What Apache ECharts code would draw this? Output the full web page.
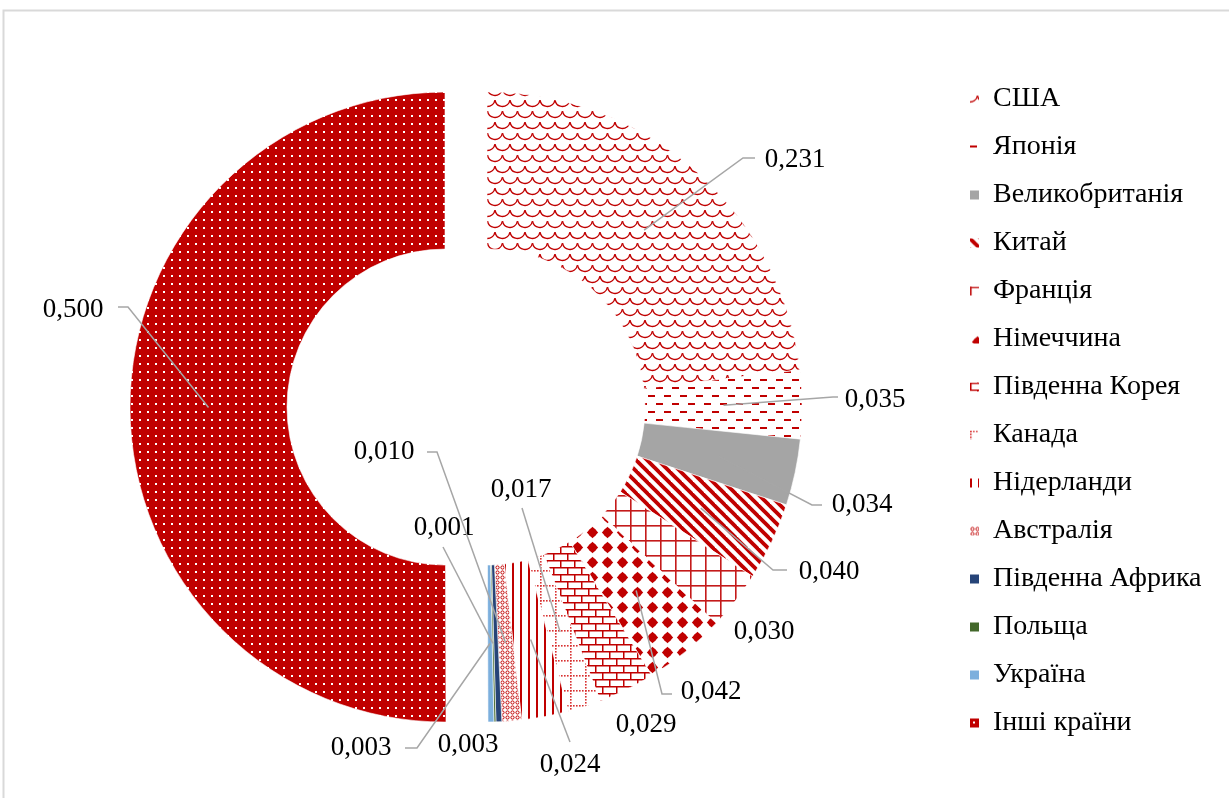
<!DOCTYPE html>
<html>
<head>
<meta charset="utf-8">
<script src="https://cdn.jsdelivr.net/npm/echarts@6/dist/echarts.min.js"></script>
<style>
  html, body { margin: 0; padding: 0; background: #fff; }
  #chart { width: 1229px; height: 798px; }
</style>
</head>
<body>
<div id="chart"></div>
<script>
// Shares of countries (clockwise from 12 o'clock)
const countries = ['США', 'Японія', 'Великобританія', 'Китай', 'Франція', 'Німеччина',
  'Південна Корея', 'Канада', 'Нідерланди', 'Австралія', 'Південна Африка', 'Польща',
  'Україна', 'Інші країни'];
const shares = [0.231, 0.035, 0.034, 0.040, 0.030, 0.042, 0.029, 0.017, 0.024, 0.010,
  0.003, 0.001, 0.003, 0.500];

// Label placement: text centre, leader elbow and leader end (null = no leader)
const labelCenter = [[795,160],[875,400],[862,505],[829,572],[764,632],[711,692],[646,725],
  [521,490],[570,765],[384,452],[468,745],[444,528],[361,748],[73,310]];
const leaderBend = [[743,158],[833,397],[812,505],[773,570],null,[662,694],null,
  [522,508],[570,742],[437,452],null,[443,547],[417,748],[128,307]];
const leaderEnd = [[755,158],[838,397],[822,505],[787,570],null,[672,694],null,
  [522,508],[570,742],[427,452],null,[443,547],[405,748],[118,307]];

const CENTER = [487, 407];
const R_IN = 158, R_OUT = 315;
const EXPLODE = 42;            // offset of the pulled-out slice
const explodedName = 'Інші країни';

const RED = '#c00000';

function tile(w, h, draw, bg) {
  const cv = document.createElement('canvas');
  cv.width = w; cv.height = h;
  const c = cv.getContext('2d');
  c.fillStyle = bg || '#ffffff';
  c.fillRect(0, 0, w, h);
  draw(c);
  return { image: cv, repeat: 'repeat' };
}

// Fill patterns
const fills = [
  // shingle
  tile(15, 22, c => {
    c.strokeStyle = RED; c.lineWidth = 1.3;
    [[0,0],[15,0],[7.5,11],[-7.5,11],[22.5,11],[0,22],[15,22]].forEach(([x, y]) => {
      c.beginPath(); c.arc(x, y, 7.5, 0.15, Math.PI - 0.15); c.stroke();
    });
  }),
  // dashed horizontal
  tile(16, 16, c => {
    c.fillStyle = RED;
    c.fillRect(0, 3, 7, 2);
    c.fillRect(8, 11, 7, 2);
  }),
  '#a5a5a5',
  // wide downward diagonal
  tile(11, 11, c => {
    c.strokeStyle = RED; c.lineWidth = 3.8;
    for (let k = -1; k <= 1; k++) {
      c.beginPath(); c.moveTo(k * 11 - 2, -2); c.lineTo(k * 11 + 13, 13); c.stroke();
    }
  }),
  // large grid
  tile(15, 15, c => {
    c.fillStyle = '#c41a1a';
    c.fillRect(0, 0, 15, 1.6);
    c.fillRect(0, 0, 1.6, 15);
  }),
  // sphere dots
  tile(15, 15, c => {
    c.fillStyle = RED;
    c.beginPath(); c.arc(7.5, 7.5, 4.2, 0, Math.PI * 2); c.fill();
    c.beginPath();
    c.moveTo(7.5, 1.8); c.lineTo(13.2, 7.5); c.lineTo(7.5, 13.2); c.lineTo(1.8, 7.5);
    c.closePath(); c.fill();
  }),
  // horizontal brick
  tile(14, 14, c => {
    c.fillStyle = RED;
    c.fillRect(0, 0, 14, 1.5);
    c.fillRect(0, 7, 14, 1.5);
    c.fillRect(0, 0, 1.5, 7);
    c.fillRect(7, 7, 1.5, 7);
  }),
  // dotted grid
  tile(15, 15, c => {
    c.fillStyle = '#d83030';
    for (let i = 0; i < 5; i++) {
      c.fillRect(i * 3, 0, 1.6, 1.6);
      c.fillRect(0, i * 3, 1.6, 1.6);
    }
  }),
  // vertical lines
  tile(8, 8, c => {
    c.fillStyle = RED;
    c.fillRect(0, 0, 2, 8);
  }),
  // small rings
  tile(5, 5, c => {
    c.strokeStyle = RED; c.lineWidth = 1;
    c.beginPath(); c.arc(2.5, 2.5, 1.6, 0, Math.PI * 2); c.stroke();
  }),
  '#264478',
  '#43682b',
  '#7cafdd',
  // dark red with white dots
  tile(8, 8, c => {
    c.fillStyle = '#ffffff';
    c.fillRect(3, 3, 2, 2);
  }, RED)
];

// Middle angle of every slice (clockwise from 12 o'clock)
const total = shares.reduce((a, b) => a + b, 0);
let acc = 0;
const midAngles = shares.map(v => { const m = (acc + v / 2) / total * Math.PI * 2; acc += v; return m; });
const explodedIdx = countries.indexOf(explodedName);
const pulledCenter = [
  CENTER[0] + Math.sin(midAngles[explodedIdx]) * EXPLODE,
  CENTER[1] - Math.cos(midAngles[explodedIdx]) * EXPLODE
];

// Leader lines start mid-ring at each slice's middle angle
const rMid = (R_IN + R_OUT) / 2;
function leaderStart(i) {
  const m = midAngles[i];
  const off = i === explodedIdx ? EXPLODE : 0;
  return [CENTER[0] + Math.sin(m) * (rMid + off), CENTER[1] - Math.cos(m) * (rMid + off)];
}
const leaders = countries.map((name, i) => leaderBend[i] ? {
  type: 'polyline',
  z: 100,
  silent: true,
  shape: { points: [leaderStart(i), leaderBend[i], leaderEnd[i]] },
  style: { stroke: '#a6a6a6', lineWidth: 1.5, fill: null }
} : null).filter(Boolean);

// Each ring draws either the pulled-out slice only or all the others
function ringData(pulled) {
  return countries.map((name, i) => {
    const visible = (i === explodedIdx) === pulled;
    return {
      name,
      value: shares[i],
      itemStyle: visible ? { color: fills[i] } : { color: 'rgba(0,0,0,0)', borderWidth: 0 },
      label: { show: visible }
    };
  });
}

function pieSeries(pulled) {
  return {
    type: 'pie',
    name: pulled ? 'pulled' : 'ring',
    center: pulled ? pulledCenter : CENTER,
    radius: [R_IN, R_OUT],
    startAngle: 90,
    clockwise: true,
    avoidLabelOverlap: false,
    emphasis: { disabled: true },
    itemStyle: { borderColor: '#ffffff', borderWidth: 0.6 },
    label: {
      position: 'outside',
      formatter: p => p.value.toFixed(3).replace('.', ','),
      fontFamily: 'Liberation Serif',
      fontSize: 27,
      color: '#000'
    },
    labelLine: { show: false },
    labelLayout: params => ({
      x: labelCenter[params.dataIndex][0],
      y: labelCenter[params.dataIndex][1],
      align: 'center',
      verticalAlign: 'middle'
    }),
    data: ringData(pulled)
  };
}

const chart = echarts.init(document.getElementById('chart'), null, { renderer: 'canvas' });
chart.setOption({
  animation: false,
  backgroundColor: '#ffffff',
  graphic: [{
    type: 'rect',
    silent: true,
    shape: { x: 3.5, y: 10.5, width: 1400, height: 1000 },
    style: { fill: 'none', stroke: '#d9d9d9', lineWidth: 2 }
  }].concat(leaders),
  legend: {
    orient: 'vertical',
    left: 970,
    top: 84,
    padding: 0,
    itemWidth: 9,
    itemHeight: 9,
    itemGap: 18,
    icon: 'rect',
    selectedMode: false,
    data: countries.map((name, i) => ({ name, itemStyle: { color: fills[i], borderWidth: 0 } })),
    textStyle: {
      fontFamily: 'Liberation Serif',
      fontSize: 28,
      color: '#000',
      lineHeight: 30,
      padding: [0, 0, 0, 9]
    }
  },
  series: [pieSeries(true), pieSeries(false)]
});
</script>
</body>
</html>
